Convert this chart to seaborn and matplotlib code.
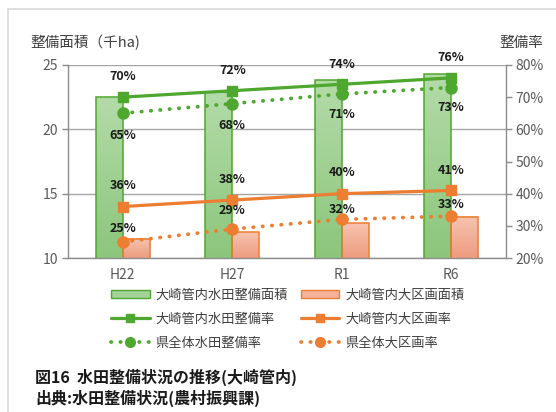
import numpy as np
import matplotlib
matplotlib.use("Agg")
import matplotlib.pyplot as plt
from matplotlib.lines import Line2D
from matplotlib.patches import Rectangle
from matplotlib.colors import LinearSegmentedColormap
import seaborn as sns
import pandas as pd

# ---- data ----
categories = ["H22", "H27", "R1", "R6"]
area_paddy = [22.5, 22.9, 23.8, 24.3]          # 大崎管内水田整備面積 (千ha)
area_large = [11.5, 12.0, 12.7, 13.2]          # 大崎管内大区画面積 (千ha)
rate_paddy_osaki = [70, 72, 74, 76]            # 大崎管内水田整備率 (%)
rate_large_osaki = [36, 38, 40, 41]            # 大崎管内大区画率 (%)
rate_paddy_pref = [65, 68, 71, 73]             # 県全体水田整備率 (%)
rate_large_pref = [25, 29, 32, 33]             # 県全体大区画率 (%)
left_ticks = [10, 15, 20, 25]
right_ticks = [20, 30, 40, 50, 60, 70, 80]

sns.set_theme(style="white")
plt.rcParams["font.family"] = ["Noto Sans CJK JP", "DejaVu Sans"]

GREEN = "#4ea72e"
ORANGE = "#ed7d31"
GRAY_TXT = "#595959"
AXIS_GRAY = "#8c8c8c"

W, H = 556, 412
fig = plt.figure(figsize=(W / 100, H / 100), dpi=100)
fig.patch.set_facecolor("white")


def fx(px):
    return px / W


def fy(py):
    return 1 - py / H


ax = fig.add_axes([fx(68), fy(258), fx(506) - fx(68), fy(65) - fy(258)])
ax.set_facecolor("none")

df = pd.DataFrame({
    "cat": categories * 2,
    "val": area_paddy + area_large,
    "series": ["大崎管内水田整備面積"] * 4 + ["大崎管内大区画面積"] * 4,
})
sns.barplot(data=df, x="cat", y="val", hue="series", order=categories,
            palette=[GREEN, ORANGE], width=0.49, ax=ax, legend=False,
            saturation=1, zorder=2)

YMIN, YMAX = left_ticks[0], left_ticks[-1]
ax.set_ylim(YMIN, YMAX)
ax.set_xlim(-0.5, len(categories) - 0.5)

# gradient fills inside each bar (visible part only)
green_cmap = LinearSegmentedColormap.from_list("g", ["#8cc67c", "#b3dba8"])
orange_cmap = LinearSegmentedColormap.from_list("o", ["#ee9c7f", "#f6c3b0"])
grad = np.linspace(0, 1, 64).reshape(-1, 1)
bars = [p for p in ax.patches if isinstance(p, Rectangle)]
for i, p in enumerate(bars):
    is_green = i < len(categories)
    x0, w = p.get_x(), p.get_width()
    top = p.get_y() + p.get_height()
    bottom = max(p.get_y(), YMIN)
    ax.imshow(grad, extent=[x0, x0 + w, bottom, top], origin="lower",
              cmap=green_cmap if is_green else orange_cmap,
              aspect="auto", zorder=2, interpolation="bilinear")
    p.set_facecolor("none")
    p.set_edgecolor(GREEN if is_green else ORANGE)
    p.set_linewidth(1.1)
    p.set_zorder(3)
ax.set_ylim(YMIN, YMAX)
ax.set_xlim(-0.5, len(categories) - 0.5)

ax.set_yticks(left_ticks)
ax.set_yticklabels([str(t) for t in left_ticks], color=GRAY_TXT, fontsize=10)
ax.yaxis.grid(True, color="#a6a6a6", linewidth=1.0, zorder=0)
ax.set_axisbelow(True)
ax.set_xlabel("")
ax.set_ylabel("")
ax.tick_params(axis="x", length=0, pad=7, labelsize=10, labelcolor=GRAY_TXT)
ax.tick_params(axis="y", length=4, width=1, color=AXIS_GRAY, left=True, pad=3)
for s in ["top", "right"]:
    ax.spines[s].set_visible(False)
for s in ["left", "bottom"]:
    ax.spines[s].set_color(AXIS_GRAY)
    ax.spines[s].set_linewidth(1)
    ax.spines[s].set_zorder(4)

# rate lines on the right-hand axis
ax2 = ax.twinx()
xpos = np.arange(len(categories))
dot_style = (0, (0.1, 2.4))
ax2.plot(xpos, rate_paddy_osaki, color=GREEN, lw=2.3, marker="s", ms=6.5,
         zorder=5)
ax2.plot(xpos, rate_large_osaki, color=ORANGE, lw=2.3, marker="s", ms=6.5,
         zorder=5)
ax2.plot(xpos, rate_paddy_pref, color=GREEN, lw=2.7, ls=dot_style,
         dash_capstyle="round", marker="o", ms=8, zorder=5)
ax2.plot(xpos, rate_large_pref, color=ORANGE, lw=2.7, ls=dot_style,
         dash_capstyle="round", marker="o", ms=8, zorder=5)
ax2.set_ylim(right_ticks[0], right_ticks[-1])
ax2.set_xlim(-0.5, len(categories) - 0.5)
ax2.set_yticks(right_ticks)
ax2.set_yticklabels([f"{t}%" for t in right_ticks], color=GRAY_TXT,
                    fontsize=10)
ax2.tick_params(axis="y", length=4, width=1, color=AXIS_GRAY, right=True,
                pad=3)
for s in ["top", "left", "bottom"]:
    ax2.spines[s].set_visible(False)
ax2.spines["right"].set_color(AXIS_GRAY)
ax2.spines["right"].set_linewidth(1)
ax2.grid(False)


# value labels (offsets in pixels)
def label(values, offsets):
    for x, v, off in zip(xpos, values, offsets):
        ax2.annotate(f"{v}%", (x, v), xytext=(0, off * 0.72),
                     textcoords="offset points", ha="center", va="center",
                     fontsize=9, fontweight="bold", color="#1a1a1a",
                     zorder=6)


label(rate_paddy_osaki, [21, 20, 20, 20])
label(rate_paddy_pref, [-22, -22, -21, -20])
label(rate_large_osaki, [21, 21, 21, 20])
label(rate_large_pref, [13, 19, 10, 12])

# axis titles
fig.text(fx(30), fy(43), "整備面積（千ha)", fontsize=10.5, color="#404040",
         ha="left", va="center")
fig.text(fx(521), fy(43), "整備率", fontsize=10.5, color="#404040",
         ha="center", va="center")

# legend
handles = [
    Rectangle((0, 0), 1, 1, facecolor="#a3d398", edgecolor=GREEN, lw=1),
    Line2D([], [], color=GREEN, lw=2.3, marker="s", ms=6),
    Line2D([], [], color=GREEN, lw=2.7, ls=dot_style, dash_capstyle="round",
           marker="o", ms=7),
    Rectangle((0, 0), 1, 1, facecolor="#f4b29b", edgecolor=ORANGE, lw=1),
    Line2D([], [], color=ORANGE, lw=2.3, marker="s", ms=6),
    Line2D([], [], color=ORANGE, lw=2.7, ls=dot_style, dash_capstyle="round",
           marker="o", ms=7),
]
labels = ["大崎管内水田整備面積", "大崎管内水田整備率", "県全体水田整備率",
          "大崎管内大区画面積", "大崎管内大区画率", "県全体大区画率"]
leg = fig.legend(handles, labels, ncol=2, loc="upper left",
                 bbox_to_anchor=(fx(106), fy(283)), frameon=False,
                 fontsize=9.5, handlelength=2.9, handleheight=0.55,
                 handletextpad=0.45, columnspacing=1.0, labelspacing=0.85,
                 borderaxespad=0)
for t in leg.get_texts():
    t.set_color("#404040")

# caption
fig.text(fx(35), fy(377), "図16  水田整備状況の推移(大崎管内)", fontsize=11.5,
         fontweight="bold", color="#1a1a1a", ha="left", va="center")
fig.text(fx(35), fy(398), "出典:水田整備状況(農村振興課)", fontsize=11.5,
         fontweight="bold", color="#1a1a1a", ha="left", va="center")

# outer frame
fig.add_artist(Line2D([fx(8), 1], [fy(9), fy(9)], color="#d9d9d9", lw=1.2,
                      transform=fig.transFigure))
fig.add_artist(Line2D([fx(8), fx(8)], [fy(9), 0], color="#d9d9d9", lw=1.2,
                      transform=fig.transFigure))

fig.savefig("out.png", dpi=100)
